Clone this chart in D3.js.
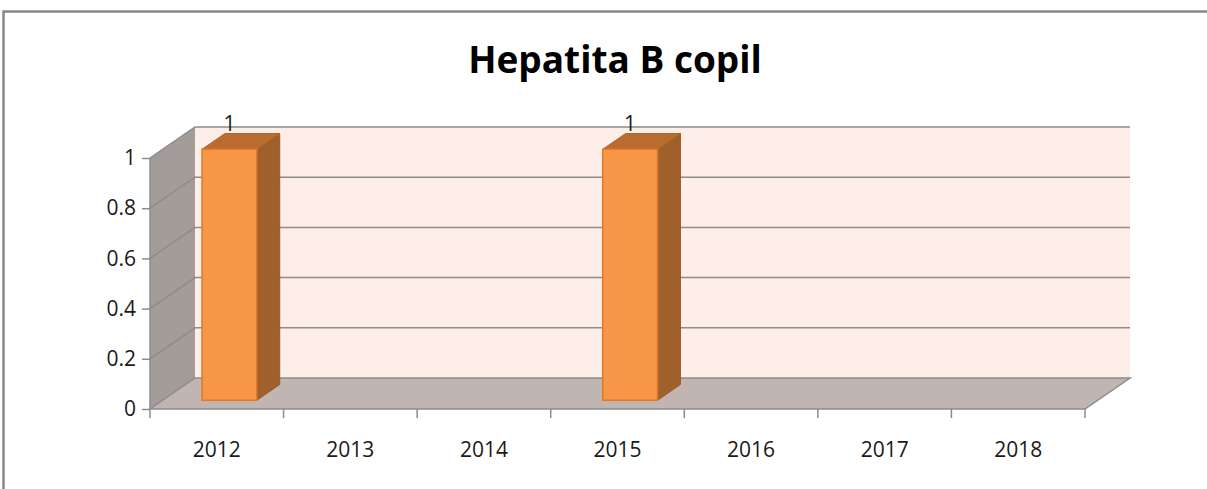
<!DOCTYPE html>
<html lang="ro">
<head>
<meta charset="utf-8">
<title>Hepatita B copil</title>
<script src="https://d3js.org/d3.v7.min.js"></script>
<style>
  body { margin: 0; background: #fff; }
  text { font-family: "Open Sans", sans-serif; fill: #1a1a1a; }
  .title { font-weight: bold; font-size: 37px; fill: #000; }
  .tick-label { font-size: 21px; }
</style>
</head>
<body>
<script>
// data
const years = ["2012", "2013", "2014", "2015", "2016", "2017", "2018"];
const cases = [1, 0, 0, 1, 0, 0, 0];
const yTicks = [0, 0.2, 0.4, 0.6, 0.8, 1];

const w = 1207, h = 489;
const depthX = 45, depthY = -31;   // offset of the back wall
const barFront = 0.28, barBack = 0.79; // bar position inside the depth

const svg = d3.select("body").append("svg")
  .attr("width", w).attr("height", h);

// frame (cropped on the right and bottom)
svg.append("path")
  .attr("d", "M3.5,489 L3.5,11.5 L1207,11.5")
  .attr("fill", "none").attr("stroke", "#888").attr("stroke-width", 2.5);

svg.append("text").attr("class", "title")
  .attr("x", 615).attr("y", 73).attr("text-anchor", "middle")
  .text("Hepatita B copil");

const x = d3.scaleBand().domain(years).range([150, 1085]).padding(0);
const y = d3.scaleLinear().domain([0, 1]).range([409, 158]);

const x0 = x.range()[0], x1 = x.range()[1];
const pt = (px, py, f) => [px + depthX * f, py + depthY * f];
const poly = pts => "M" + pts.map(p => p.join(",")).join("L") + "Z";

// back wall
svg.append("path")
  .attr("d", poly([pt(x0, y(0), 1), pt(x1, y(0), 1), pt(x1, y(1), 1), pt(x0, y(1), 1)]))
  .attr("fill", "#fdeee7");

// left wall
svg.append("path")
  .attr("d", poly([[x0, y(0)], [x0, y(1)], pt(x0, y(1), 1), pt(x0, y(0), 1)]))
  .attr("fill", "#a39c98");

// floor
svg.append("path")
  .attr("d", poly([[x0, y(0)], [x1, y(0)], pt(x1, y(0), 1), pt(x0, y(0), 1)]))
  .attr("fill", "#c0b5b0").attr("stroke", "#8c8c8c").attr("stroke-width", 1.5);

// gridlines (back wall + left wall)
yTicks.filter(v => v > 0).forEach(v => {
  const a = [x0, y(v)], b = pt(x0, y(v), 1), c = pt(x1, y(v), 1);
  svg.append("path")
    .attr("d", "M" + a + "L" + b + "L" + c)
    .attr("fill", "none").attr("stroke", "#8c8c8c").attr("stroke-width", 1.5);
});

// axes
const leftAxis = d3.axisLeft(y).tickValues(yTicks).tickSize(8).tickPadding(6)
  .tickFormat(d => d === 0 || d === 1 ? d3.format("d")(d) : d3.format(".1f")(d));
const gy = svg.append("g").attr("transform", "translate(" + x0 + ",0)").call(leftAxis);

const bottomAxis = d3.axisBottom(x).tickSize(0).tickPadding(33);
const gx = svg.append("g").attr("transform", "translate(0," + y(0) + ")").call(bottomAxis);

[gx, gy].forEach(g => {
  g.attr("font-size", null).attr("font-family", null);
  g.select(".domain").attr("stroke", "#8c8c8c").attr("stroke-width", 1.5);
  g.selectAll(".tick line").attr("stroke", "#8c8c8c").attr("stroke-width", 1.5);
  g.selectAll(".tick text").attr("class", "tick-label").attr("fill", "#1a1a1a");
});
gx.select(".domain").remove();
gy.select(".domain").attr("d", "M0," + y(0) + "V" + y(1));

// x tick marks on band boundaries
svg.append("g").selectAll("line")
  .data(years.concat(["end"]))
  .join("line")
  .attr("x1", (d, i) => i < years.length ? x(d) : x1)
  .attr("x2", (d, i) => i < years.length ? x(d) : x1)
  .attr("y1", y(0)).attr("y2", y(0) + 9)
  .attr("stroke", "#8c8c8c").attr("stroke-width", 1.5);

// 3d bars
const data = years.map((yr, i) => ({ year: yr, value: cases[i] })).filter(d => d.value > 0);
const bw = x.bandwidth() * 0.41;

const bars = svg.append("g").selectAll("g").data(data).join("g");
bars.each(function(d) {
  const g = d3.select(this);
  const cx = x(d.year) + x.bandwidth() / 2;
  const L = cx - bw / 2, R = cx + bw / 2;
  const top = y(d.value), bot = y(0);
  const dd = barBack - barFront;
  const fL = pt(L, top, barFront), fR = pt(R, top, barFront);
  const fRb = pt(R, bot, barFront), fLb = pt(L, bot, barFront);
  // side
  g.append("path")
    .attr("d", poly([fR, fRb, pt(fRb[0], fRb[1], dd), pt(fR[0], fR[1], dd)]))
    .attr("fill", "#a0602c").attr("stroke", "#9a5a28").attr("stroke-width", 1);
  // top
  g.append("path")
    .attr("d", poly([fL, fR, pt(fR[0], fR[1], dd), pt(fL[0], fL[1], dd)]))
    .attr("fill", "#b96b30").attr("stroke", "#b06430").attr("stroke-width", 1);
  // front
  g.append("path")
    .attr("d", poly([fL, fR, fRb, fLb]))
    .attr("fill", "#f79646").attr("stroke", "#e07a2a").attr("stroke-width", 1.5);
  // label
  g.append("text")
    .attr("x", (fL[0] + fR[0]) / 2)
    .attr("y", fL[1] + depthY * dd - 3)
    .attr("text-anchor", "middle")
    .attr("class", "tick-label")
    .text(d.value);
});
</script>
</body>
</html>
